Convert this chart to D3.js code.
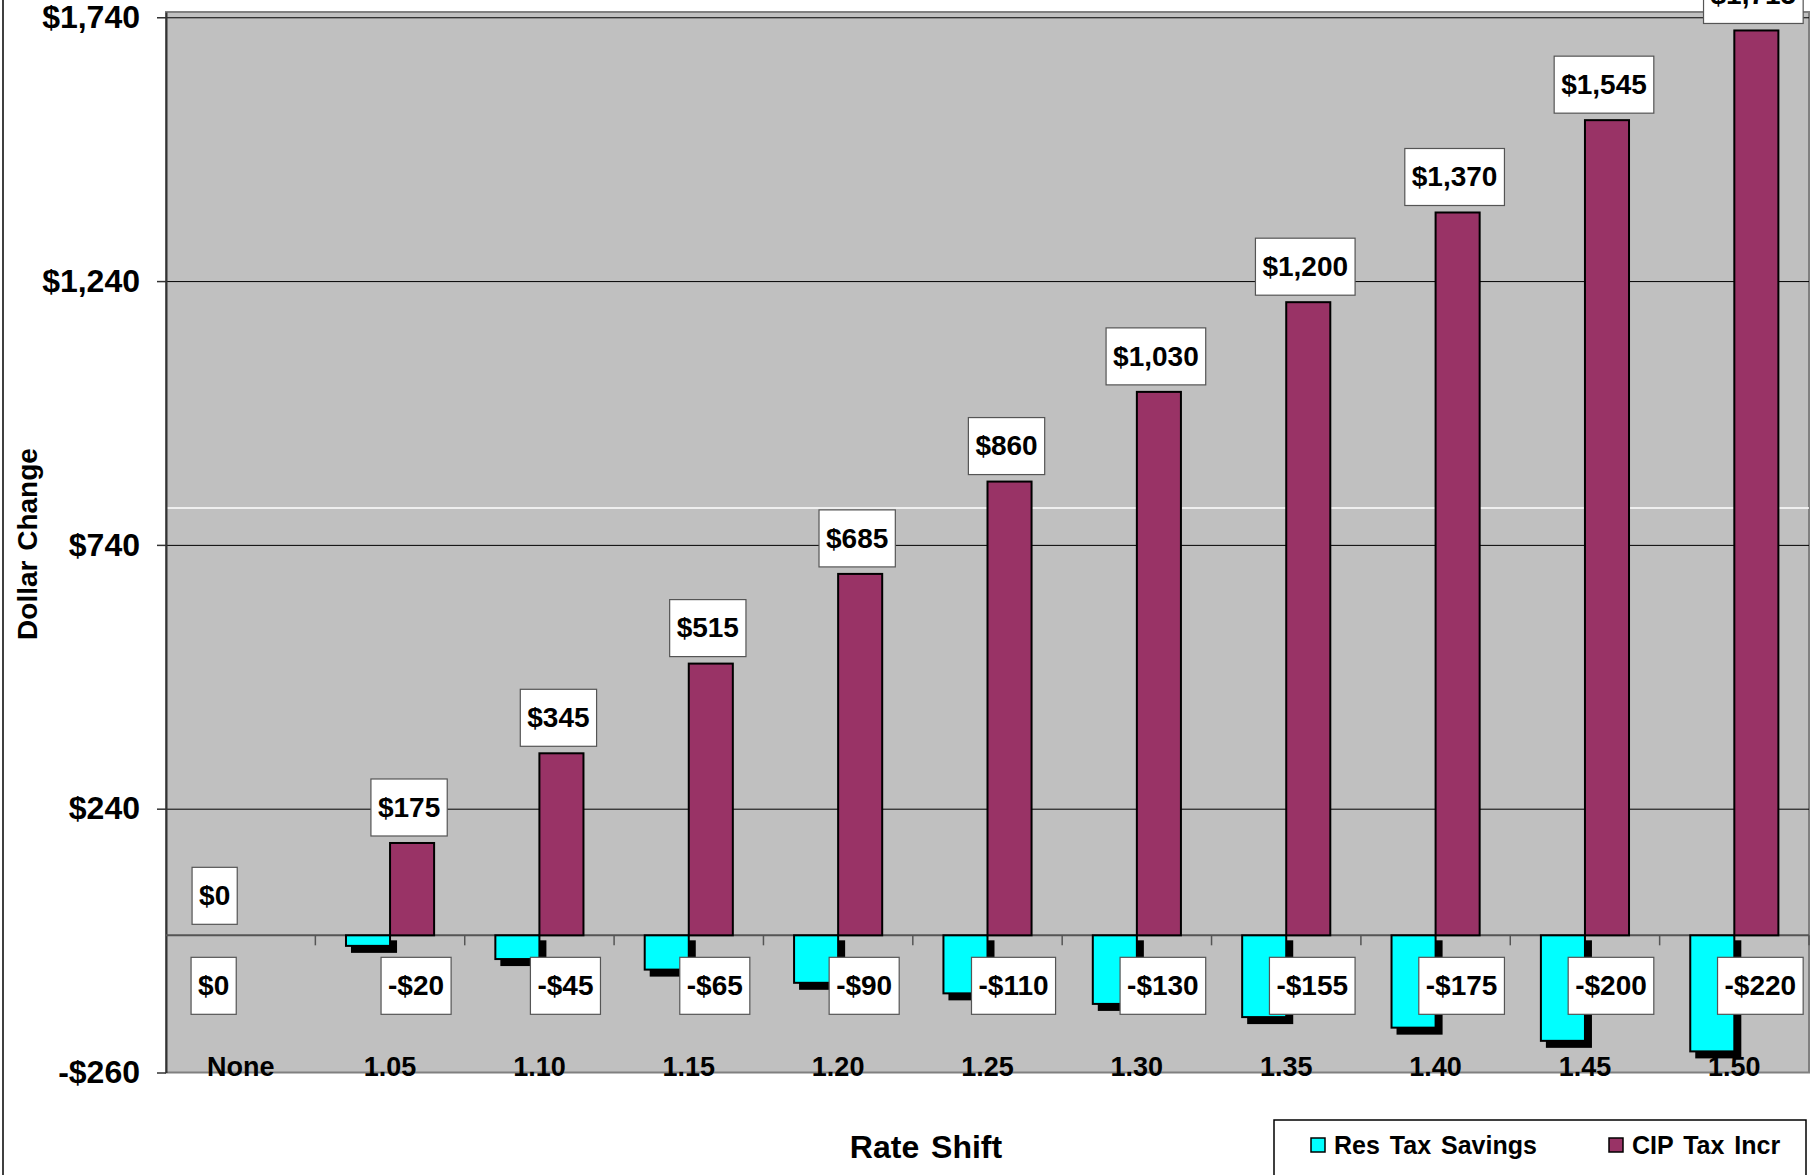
<!DOCTYPE html>
<html>
<head>
<meta charset="utf-8">
<script src="https://cdn.jsdelivr.net/npm/d3@7"></script>
<style>
body { margin: 0; background: #fff; }
svg text { font-family: "Liberation Sans", Arial, sans-serif; font-weight: bold; fill: #000; }
</style>
</head>
<body>
<svg id="chart" width="1818" height="1175"></svg>
<script>
// rate shift steps along the x axis
var categories = ["None", "1.05", "1.10", "1.15", "1.20", "1.25", "1.30", "1.35", "1.40", "1.45", "1.50"];
// residential tax savings (shown as negative change)
var resTaxSavings = [0, -20, -45, -65, -90, -110, -130, -155, -175, -200, -220];
// CIP tax increase
var cipTaxIncr = [0, 175, 345, 515, 685, 860, 1030, 1200, 1370, 1545, 1715];
var yTicks = [-260, 240, 740, 1240, 1740];
var seriesNames = ["Res Tax Savings", "CIP Tax Incr"];
var seriesColors = ["#00ffff", "#993366"];
// stray light line across the plot in the original
var whiteLineValue = 810;

var plot = { left: 166, right: 1809, top: 12, bottom: 1072.5 };

var xScale = d3.scaleBand().domain(categories).range([plot.left, plot.right]);
var yScale = d3.scaleLinear().domain([-260, 1750]).range([plot.bottom, plot.top]);
var barW = xScale.bandwidth() * 0.295;

function money(v) {
    return (v < 0 ? "-" : "") + "$" + d3.format(",")(Math.abs(v));
}

var rows = categories.map(function(c, i) {
    return { cat: c, res: resTaxSavings[i], cip: cipTaxIncr[i] };
});

var svg = d3.select("#chart");

// outer frame line on the left
svg.append("line")
    .attr("x1", 3).attr("x2", 3).attr("y1", 0).attr("y2", 1175)
    .attr("stroke", "#000").attr("stroke-width", 1.5);

// plot background
svg.append("rect")
    .attr("x", plot.left).attr("y", plot.top)
    .attr("width", plot.right - plot.left).attr("height", plot.bottom - plot.top)
    .attr("fill", "#c0c0c0")
    .attr("stroke", "#808080").attr("stroke-width", 2);

// gridlines
var grid = svg.append("g")
    .attr("transform", "translate(" + plot.left + ",0)")
    .call(d3.axisLeft(yScale)
        .tickValues(yTicks.filter(function(v) { return v > -260; }))
        .tickSize(-(plot.right - plot.left))
        .tickFormat(""));
grid.select(".domain").remove();
grid.selectAll(".tick line").attr("stroke", "#000").attr("stroke-width", 1);

svg.append("line")
    .attr("x1", plot.left + 1).attr("x2", plot.right)
    .attr("y1", yScale(whiteLineValue)).attr("y2", yScale(whiteLineValue))
    .attr("stroke", "#ffffff").attr("stroke-width", 1.5);

// y axis
var yAxis = svg.append("g")
    .attr("transform", "translate(" + plot.left + ",0)")
    .call(d3.axisLeft(yScale)
        .tickValues(yTicks)
        .tickSize(9)
        .tickSizeOuter(0)
        .tickPadding(17)
        .tickFormat(money));
yAxis.select(".domain").attr("stroke", "#333").attr("stroke-width", 2);
yAxis.selectAll(".tick line").attr("stroke", "#333").attr("stroke-width", 1.5);
yAxis.selectAll(".tick text")
    .style("font-size", "32px")
    .style("font-family", "'Liberation Sans', Arial, sans-serif")
    .style("font-weight", "bold")
    .attr("fill", "#000");

// zero line with category ticks
var y0 = yScale(0);
svg.append("line")
    .attr("x1", plot.left).attr("x2", plot.right)
    .attr("y1", y0).attr("y2", y0)
    .attr("stroke", "#555").attr("stroke-width", 2);

var bounds = categories.slice(1).map(function(c) { return xScale(c); }).concat([plot.right]);
svg.append("g").selectAll("line")
    .data(bounds)
    .enter().append("line")
    .attr("x1", function(d) { return d; }).attr("x2", function(d) { return d; })
    .attr("y1", y0).attr("y2", y0 + 10)
    .attr("stroke", "#555").attr("stroke-width", 1.5);

function center(c) { return xScale(c) + xScale.bandwidth() / 2; }

var negRows = rows.filter(function(d) { return d.res !== 0; });

// shadows behind the cyan bars
svg.append("g").selectAll("rect")
    .data(negRows)
    .enter().append("rect")
    .attr("x", function(d) { return center(d.cat) - barW + 6; })
    .attr("y", y0 + 6)
    .attr("width", barW)
    .attr("height", function(d) { return yScale(d.res) - y0; })
    .attr("fill", "#000")
    .attr("stroke", "#000").attr("stroke-width", 2);

// res tax savings bars
svg.append("g").selectAll("rect")
    .data(negRows)
    .enter().append("rect")
    .attr("x", function(d) { return center(d.cat) - barW; })
    .attr("y", y0)
    .attr("width", barW)
    .attr("height", function(d) { return yScale(d.res) - y0; })
    .attr("fill", seriesColors[0])
    .attr("stroke", "#000").attr("stroke-width", 2);

// CIP tax increase bars
svg.append("g").selectAll("rect")
    .data(rows.filter(function(d) { return d.cip !== 0; }))
    .enter().append("rect")
    .attr("x", function(d) { return center(d.cat); })
    .attr("y", function(d) { return yScale(d.cip); })
    .attr("width", barW)
    .attr("height", function(d) { return y0 - yScale(d.cip); })
    .attr("fill", seriesColors[1])
    .attr("stroke", "#000").attr("stroke-width", 2);

// x labels sit at the bottom of the plot
var xAxis = svg.append("g")
    .attr("transform", "translate(0," + plot.bottom + ")")
    .call(d3.axisBottom(xScale).tickSize(0).tickPadding(0));
xAxis.select(".domain").remove();
xAxis.selectAll(".tick text")
    .attr("y", 3.5).attr("dy", 0)
    .style("font-size", "27px")
    .style("font-family", "'Liberation Sans', Arial, sans-serif")
    .style("font-weight", "bold")
    .attr("fill", "#000");

// value labels in white boxes
var boxH = 57;
function addLabel(value, cx, top) {
    var g = svg.append("g");
    var t = g.append("text")
        .attr("x", cx).attr("y", top + boxH / 2).attr("dy", "0.33em")
        .attr("text-anchor", "middle")
        .style("font-size", "28px")
        .text(money(value));
    var w = t.node().getComputedTextLength() + 14;
    g.insert("rect", "text")
        .attr("x", cx - w / 2).attr("y", top)
        .attr("width", w).attr("height", boxH)
        .attr("fill", "#fff")
        .attr("stroke", "#555").attr("stroke-width", 1.2);
}

rows.forEach(function(d) {
    var cyanMid = center(d.cat) - barW / 2;
    var maroonMid = center(d.cat) + barW / 2;
    var cx = d.cip === 0 ? cyanMid - 4 : maroonMid - 3;
    addLabel(d.cip, cx, yScale(d.cip) - 7 - boxH - (d.cip === 0 ? 4 : 0));
    var rx = d.res === 0 ? cyanMid - 5 : maroonMid + 4;
    addLabel(d.res, rx, y0 + 22);
});

// axis titles
svg.append("text")
    .attr("x", 926).attr("y", 1158)
    .attr("text-anchor", "middle")
    .style("font-size", "32px")
    .style("word-spacing", "3px")
    .text("Rate Shift");

svg.append("text")
    .attr("transform", "translate(37,544) rotate(-90)")
    .attr("text-anchor", "middle")
    .style("font-size", "28px")
    .style("word-spacing", "2px")
    .text("Dollar Change");

// legend
var legend = svg.append("g");
legend.append("rect")
    .attr("x", 1274).attr("y", 1120)
    .attr("width", 532).attr("height", 90)
    .attr("fill", "#fff")
    .attr("stroke", "#000").attr("stroke-width", 1.5);

var legendX = [1311, 1609];
seriesNames.forEach(function(name, i) {
    legend.append("rect")
        .attr("x", legendX[i]).attr("y", 1138)
        .attr("width", 14).attr("height", 14)
        .attr("fill", seriesColors[i])
        .attr("stroke", "#000").attr("stroke-width", 1.5);
    legend.append("text")
        .attr("x", legendX[i] + 23).attr("y", 1154)
        .style("font-size", "25px")
        .style("word-spacing", "3px")
        .text(name);
});
</script>
</body>
</html>
